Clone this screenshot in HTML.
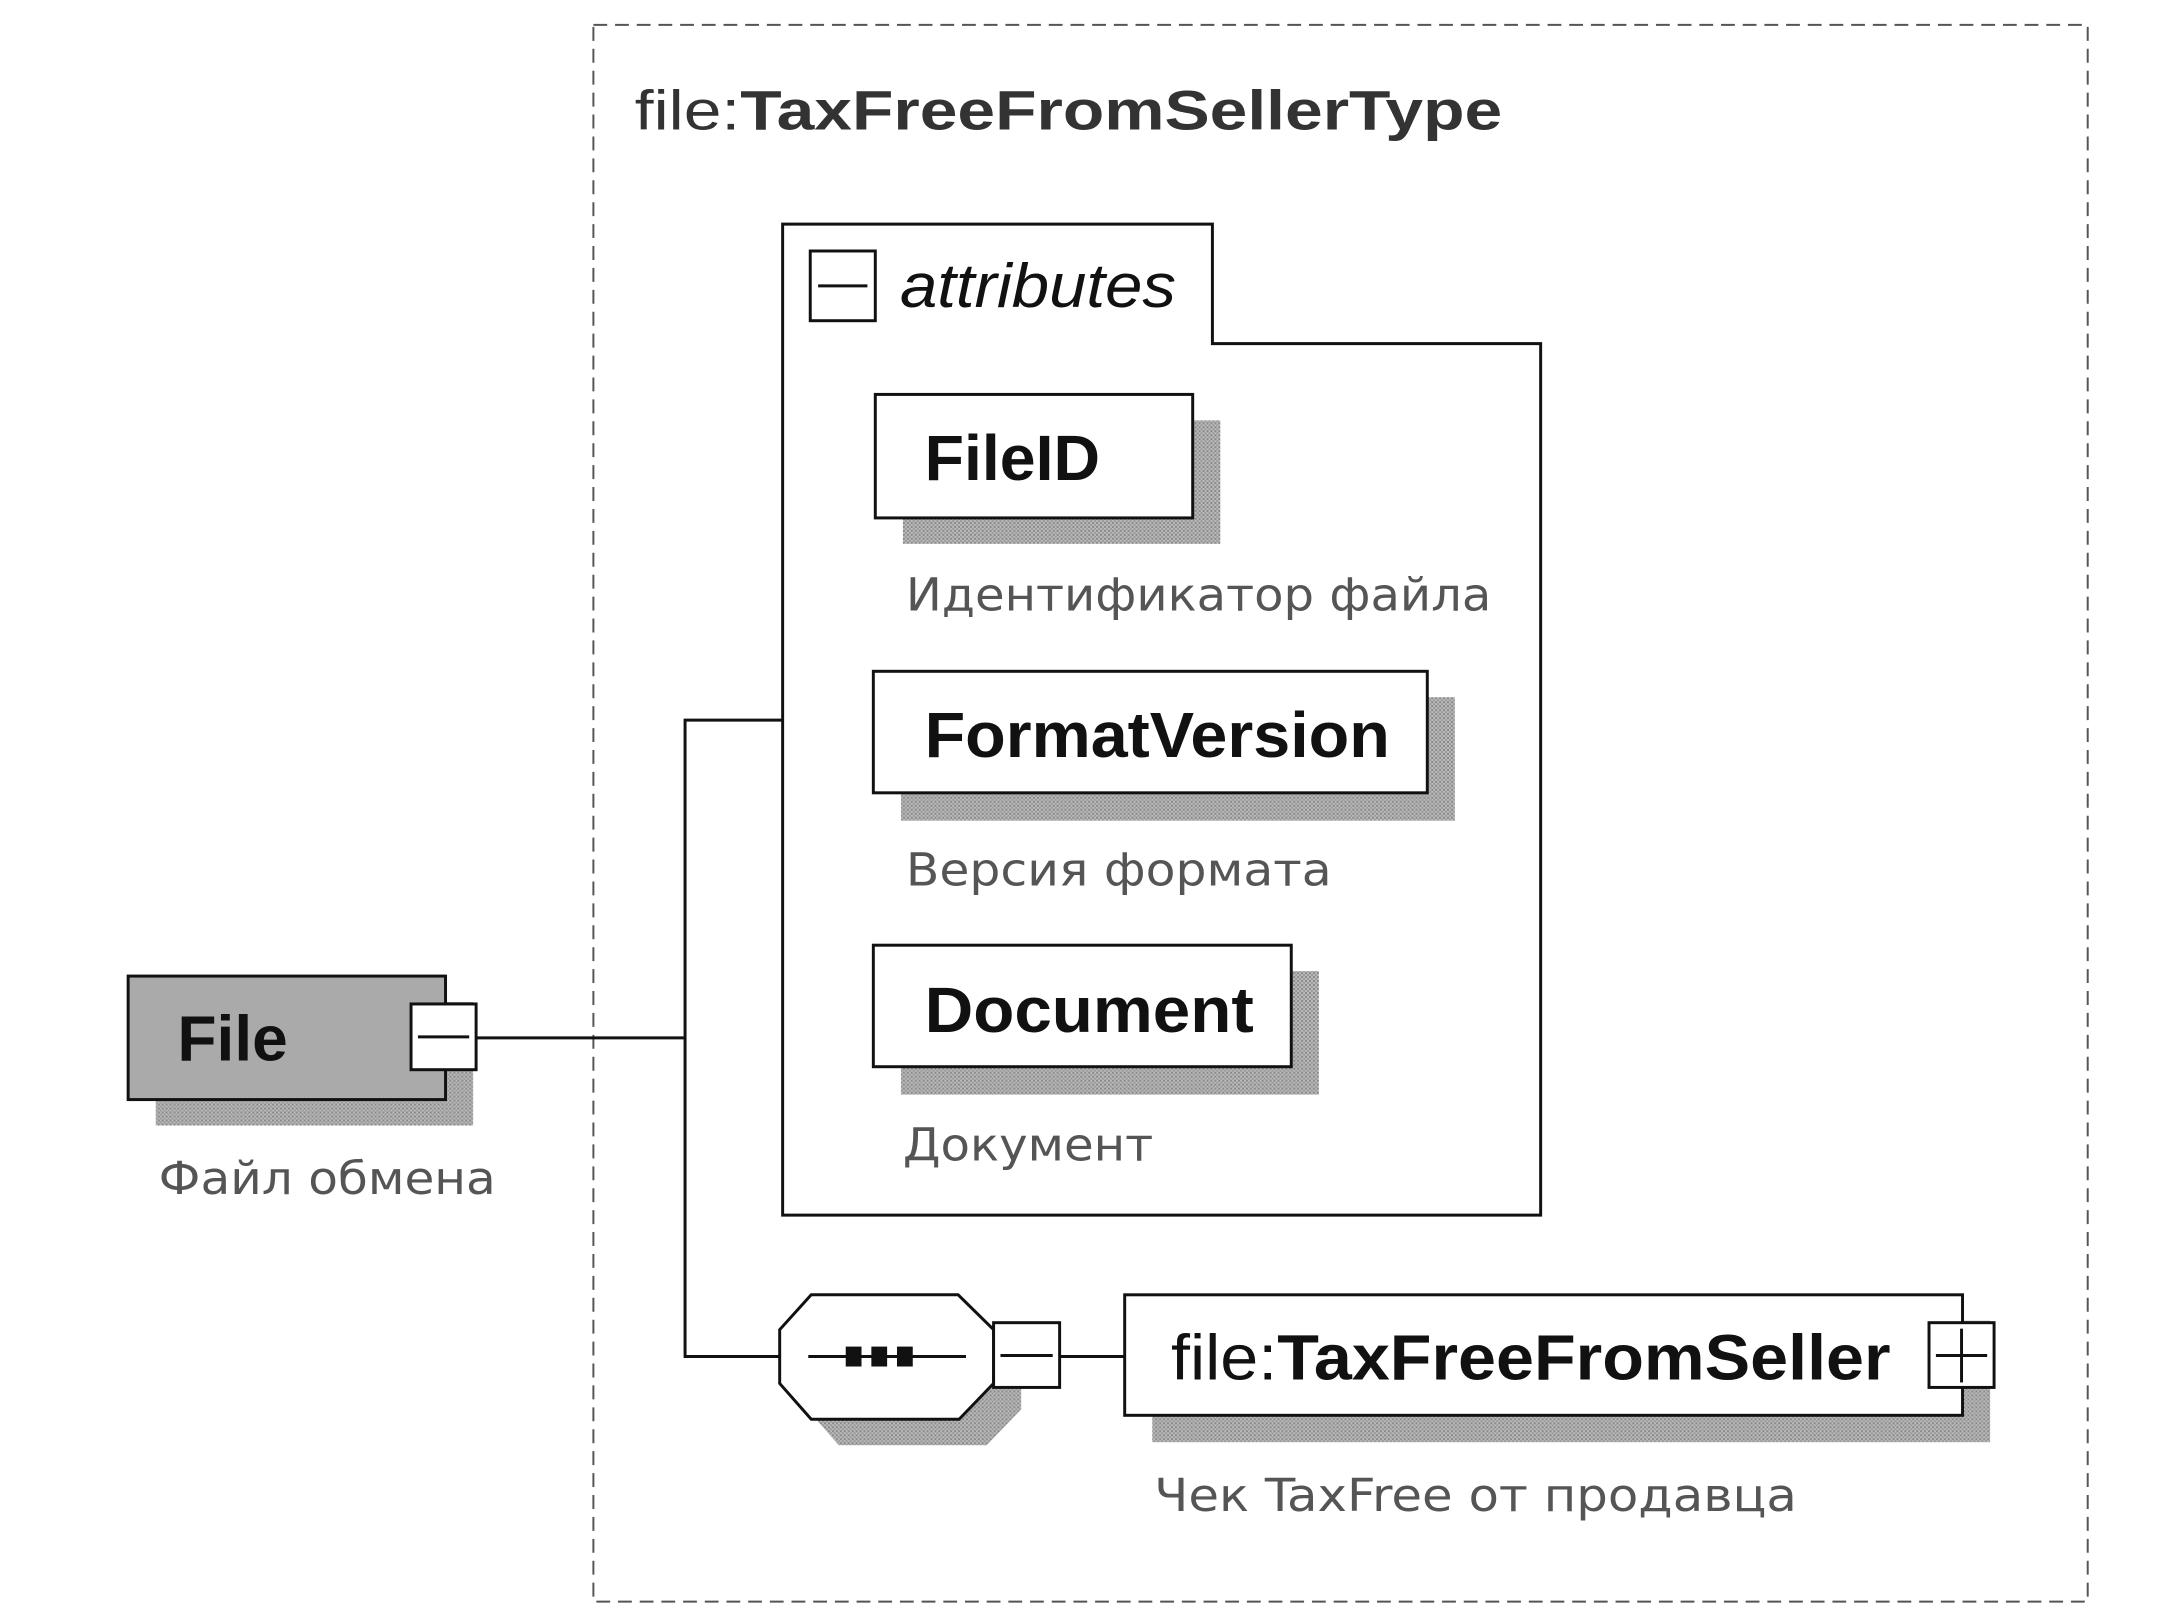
<!DOCTYPE html>
<html><head><meta charset="utf-8"><style>html,body{margin:0;padding:0;background:#fff}svg{display:block}</style></head>
<body>
<svg width="2165" height="1615" viewBox="0 0 2165 1615" xmlns="http://www.w3.org/2000/svg">
<defs>
<pattern id="sh" width="4" height="4" patternUnits="userSpaceOnUse"><rect width="4" height="4" fill="#bbb"/><rect width="2" height="2" fill="#888"/><rect x="2" y="2" width="2" height="2" fill="#999"/></pattern>
</defs>
<g transform="scale(0.9857,0.996)">
<rect x="602" y="25" width="1516" height="1583" fill="none" stroke="#555" stroke-width="2" stroke-dasharray="14,8"/>
<text x="644" y="130" font-family="Liberation Sans, sans-serif" font-size="56" fill="#333" textLength="880" lengthAdjust="spacingAndGlyphs"><tspan>file:</tspan><tspan font-weight="bold">TaxFreeFromSellerType</tspan></text>

<path d="M794,225 H1230 V345 H1563 V1220 H794 Z" fill="#fff" stroke="#111" stroke-width="3"/>
<rect x="822" y="252" width="66" height="70" fill="#fff" stroke="#111" stroke-width="3"/>
<line x1="830" y1="287" x2="880" y2="287" stroke="#111" stroke-width="3"/>
<text x="913" y="308" font-family="Liberation Sans, sans-serif" font-style="italic" font-size="62" fill="#111" textLength="280" lengthAdjust="spacingAndGlyphs">attributes</text>

<rect x="916" y="422" width="322" height="124" fill="url(#sh)"/>
<rect x="888" y="396" width="322" height="124" fill="#fff" stroke="#111" stroke-width="3"/>
<text x="938" y="482" font-family="Liberation Sans, sans-serif" font-weight="bold" font-size="64" fill="#111" textLength="178" lengthAdjust="spacingAndGlyphs">FileID</text>
<text x="919" y="613" font-family="DejaVu Sans, sans-serif" font-size="46" fill="#555" textLength="594" lengthAdjust="spacingAndGlyphs">Идентификатор файла</text>

<rect x="914" y="700" width="562" height="124" fill="url(#sh)"/>
<rect x="886" y="674" width="562" height="122" fill="#fff" stroke="#111" stroke-width="3"/>
<text x="938" y="760" font-family="Liberation Sans, sans-serif" font-weight="bold" font-size="64" fill="#111" textLength="472" lengthAdjust="spacingAndGlyphs">FormatVersion</text>
<text x="919" y="889" font-family="DejaVu Sans, sans-serif" font-size="46" fill="#555" textLength="432" lengthAdjust="spacingAndGlyphs">Версия формата</text>

<rect x="914" y="975" width="424" height="124" fill="url(#sh)"/>
<rect x="886" y="949" width="424" height="122" fill="#fff" stroke="#111" stroke-width="3"/>
<text x="938" y="1036" font-family="Liberation Sans, sans-serif" font-weight="bold" font-size="64" fill="#111" textLength="334" lengthAdjust="spacingAndGlyphs">Document</text>
<text x="916" y="1165" font-family="DejaVu Sans, sans-serif" font-size="46" fill="#555" textLength="254" lengthAdjust="spacingAndGlyphs">Документ</text>

<rect x="158" y="1006" width="322" height="124" fill="url(#sh)"/>
<rect x="130" y="980" width="322" height="124" fill="#aaa" stroke="#111" stroke-width="3"/>
<rect x="417" y="1008" width="66" height="66" fill="#fff" stroke="#111" stroke-width="3"/>
<line x1="424" y1="1041" x2="476" y2="1041" stroke="#111" stroke-width="3"/>
<text x="180" y="1065" font-family="Liberation Sans, sans-serif" font-weight="bold" font-size="64" fill="#111" textLength="112" lengthAdjust="spacingAndGlyphs">File</text>
<text x="161" y="1199" font-family="DejaVu Sans, sans-serif" font-size="46" fill="#555" textLength="342" lengthAdjust="spacingAndGlyphs">Файл обмена</text>

<polyline points="483,1042 695,1042" fill="none" stroke="#111" stroke-width="3"/>
<polyline points="794,723 695,723 695,1362 791,1362" fill="none" stroke="#111" stroke-width="3"/>

<polygon points="851,1326 1000,1326 1036,1361 1036,1415 1001,1451 851,1451 819,1415 819,1361" fill="url(#sh)"/>
<polygon points="823,1300 972,1300 1008,1335 1008,1389 973,1425 823,1425 791,1389 791,1335" fill="#fff" stroke="#111" stroke-width="3"/>
<line x1="820" y1="1362" x2="980" y2="1362" stroke="#111" stroke-width="3"/>
<rect x="858" y="1352" width="16" height="20" fill="#111"/><rect x="884" y="1352" width="16" height="20" fill="#111"/><rect x="910" y="1352" width="16" height="20" fill="#111"/>
<rect x="1008" y="1328" width="67" height="65" fill="#fff" stroke="#111" stroke-width="3"/>
<line x1="1015" y1="1361" x2="1068" y2="1361" stroke="#111" stroke-width="3"/>
<line x1="1075" y1="1362" x2="1141" y2="1362" stroke="#111" stroke-width="3"/>

<rect x="1169" y="1326" width="850" height="122" fill="url(#sh)"/>
<rect x="1141" y="1300" width="850" height="121" fill="#fff" stroke="#111" stroke-width="3"/>
<rect x="1957" y="1328" width="66" height="65" fill="#fff" stroke="#111" stroke-width="3"/>
<line x1="1964" y1="1361" x2="2016" y2="1361" stroke="#111" stroke-width="3"/>
<line x1="1990" y1="1334" x2="1990" y2="1388" stroke="#111" stroke-width="3"/>
<text x="1188" y="1385" font-family="Liberation Sans, sans-serif" font-size="64" fill="#111" textLength="730" lengthAdjust="spacingAndGlyphs"><tspan>file:</tspan><tspan font-weight="bold">TaxFreeFromSeller</tspan></text>
<text x="1171" y="1517" font-family="DejaVu Sans, sans-serif" font-size="46" fill="#555" textLength="652" lengthAdjust="spacingAndGlyphs">Чек TaxFree от продавца</text>
</g>
</svg>
</body></html>
